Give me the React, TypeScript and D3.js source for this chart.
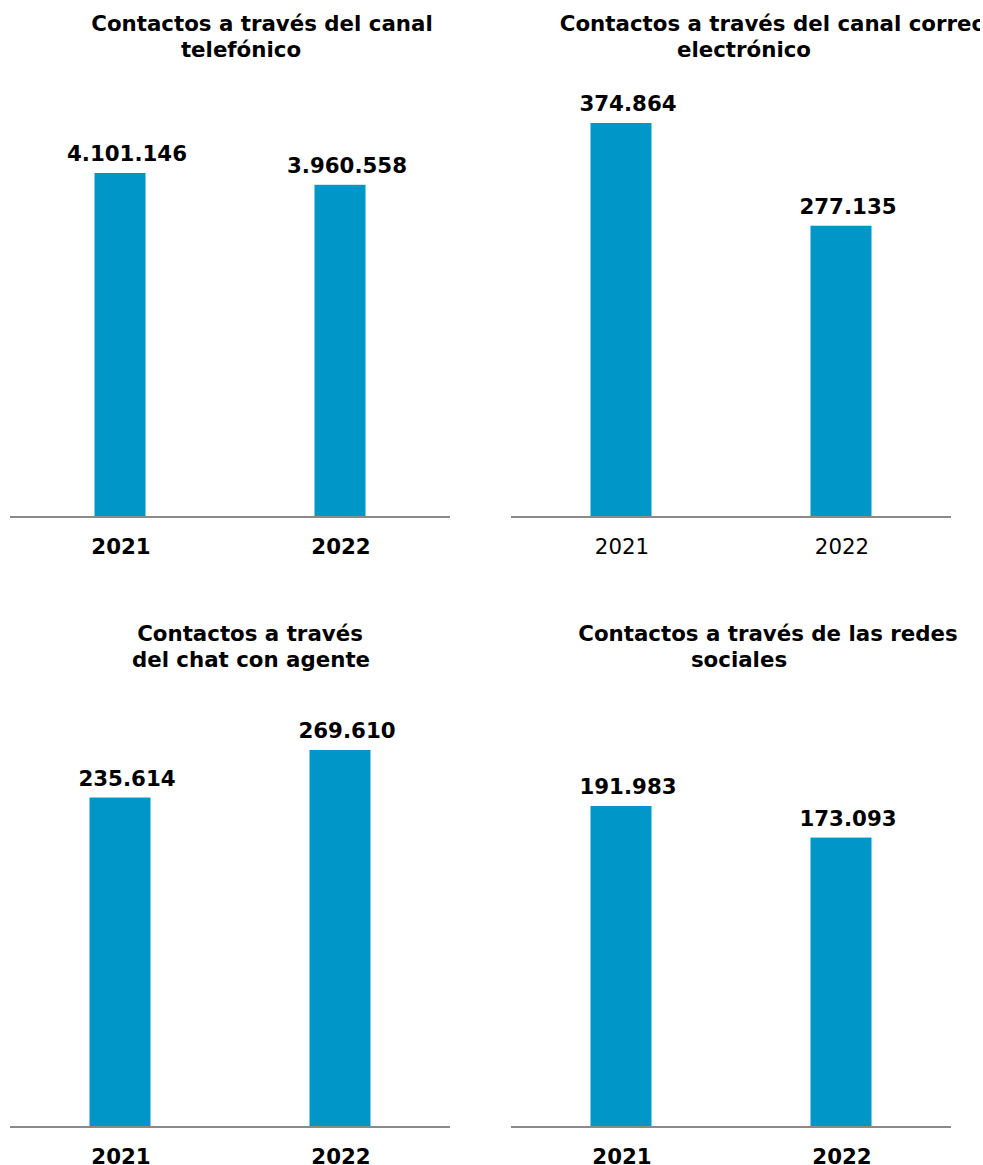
import React from 'react';
import * as d3 from 'd3';

// ---- data ----
const years = ['2021', '2022'];
const telefonico = [4101146, 3960558];
const correo = [374864, 277135];
const chat = [235614, 269610];
const redes = [191983, 173093];
const titleTelefonico = ['Contactos a través del canal', 'telefónico'];
const titleCorreo = ['Contactos a través del canal correo', 'electrónico'];
const titleChat = ['Contactos a través', 'del chat con agente'];
const titleRedes = ['Contactos a través de las redes', 'sociales'];

const W = 983;
const H = 1165;
const FONT = '"DejaVu Sans", Verdana, sans-serif';
const FS = 21.33;
const BAR = '#0096c8';
const AXIS = '#8a8a8a';

const fmt = d3.formatLocale({ decimal: ',', thousands: '.', grouping: [3], currency: ['', ''] }).format(',d');

type Panel = {
  values: number[];
  title: string[];
  titleCx: number[];
  x0: number;
  axisY: number;
  maxTop: number;
  barW: number;
  tickBold: boolean;
};

const panels: Panel[] = [
  { values: telefonico, title: titleTelefonico, titleCx: [262, 241], x0: 10, axisY: 517, maxTop: 173, barW: 51, tickBold: true },
  { values: correo, title: titleCorreo, titleCx: [773, 744], x0: 511, axisY: 517, maxTop: 123, barW: 61, tickBold: false },
  { values: chat, title: titleChat, titleCx: [250, 251], x0: 10, axisY: 1127, maxTop: 750, barW: 61, tickBold: true },
  { values: redes, title: titleRedes, titleCx: [768, 739], x0: 511, axisY: 1127, maxTop: 806, barW: 61, tickBold: true },
];

function PanelView({ p }: { p: Panel }) {
  const x = d3.scaleBand<string>().domain(years).range([p.x0, p.x0 + 440]).padding(0);
  const y = d3.scaleLinear().domain([0, d3.max(p.values) as number]).range([p.axisY, p.maxTop]);
  const bw = x.bandwidth();
  const titleBase = p.axisY - 486;
  return (
    <g>
      {p.title.map((t, i) => (
        <text key={i} x={p.titleCx[i]} y={titleBase + i * 26} textAnchor="middle" fontFamily={FONT} fontSize={FS} fontWeight="bold" fill="#000" clipPath="url(#figclip)">
          {t}
        </text>
      ))}
      {years.map((yr, i) => {
        const v = p.values[i];
        const bx = (x(yr) as number) + (bw - p.barW) / 2;
        return (
          <g key={yr}>
            <rect x={bx} y={y(v)} width={p.barW} height={p.axisY - y(v)} fill={BAR} />
            <text x={(x(yr) as number) + bw / 2 + 7} y={y(v) - 12} textAnchor="middle" fontFamily={FONT} fontSize={FS} fontWeight="bold" fill="#000">
              {fmt(v)}
            </text>
            <text x={(x(yr) as number) + bw / 2 + 1} y={p.axisY + 36.5} textAnchor="middle" fontFamily={FONT} fontSize={FS} fontWeight={p.tickBold ? 'bold' : 'normal'} fill="#000">
              {yr}
            </text>
          </g>
        );
      })}
      <line x1={p.x0} x2={p.x0 + 440} y1={p.axisY} y2={p.axisY} stroke={AXIS} strokeWidth={2} />
    </g>
  );
}

export default function App() {
  return (
    <svg width={W} height={H} style={{ position: 'absolute', left: 0, top: 0, background: '#fff' }}>
      <defs>
        <clipPath id="figclip">
          <rect x={0} y={0} width={980} height={H} />
        </clipPath>
      </defs>
      <rect x={0} y={0} width={W} height={H} fill="#fff" />
      {panels.map((p, i) => (
        <PanelView key={i} p={p} />
      ))}
    </svg>
  );
}
